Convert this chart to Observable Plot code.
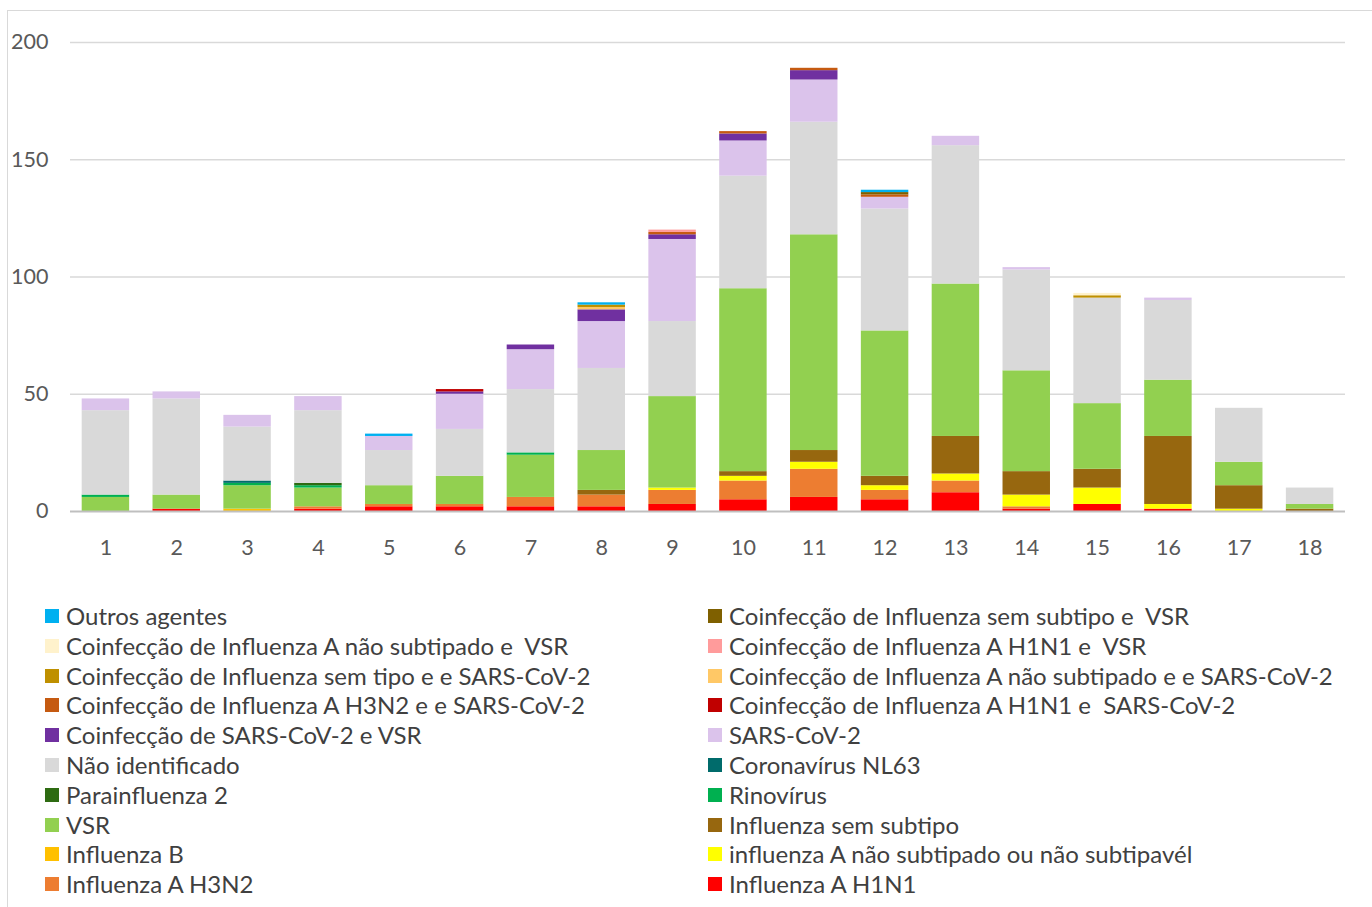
<!DOCTYPE html>
<html>
<head>
<meta charset="utf-8">
<script src="https://cdn.jsdelivr.net/npm/d3@7"></script>
<script src="https://cdn.jsdelivr.net/npm/@observablehq/plot@0.6"></script>
<style>
  html, body { margin: 0; padding: 0; background: #fff; }
  body { width: 1372px; height: 907px; position: relative; overflow: hidden; font-family: Lato, sans-serif; }
  #frame { position: absolute; left: 7px; top: 10px; width: 1370px; height: 910px; border: 1px solid #D9D9D9; box-sizing: border-box; }
  #chart { position: absolute; left: 0; top: 0; }
  #legend { position: absolute; left: 0; top: 0; }
  .item { position: absolute; display: flex; align-items: center; font-size: 24px; color: #404040; white-space: pre; line-height: 1; }
  .sw { width: 14px; height: 14px; margin-right: 7px; flex: none; }
</style>
</head>
<body>
<div id="frame"></div>
<div id="chart"></div>
<div id="legend"></div>
<script>
// Weeks (x categories)
const weeks = ["1","2","3","4","5","6","7","8","9","10","11","12","13","14","15","16","17","18"];

// Series, in stacking order (bottom to top)
const seriesNames = [
  "Influenza A H1N1",
  "Influenza A H3N2",
  "influenza A não subtipado ou não subtipavél",
  "Influenza B",
  "Influenza sem subtipo",
  "VSR",
  "Rinovírus",
  "Parainfluenza 2",
  "Coronavírus NL63",
  "Não identificado",
  "SARS-CoV-2",
  "Coinfecção de SARS-CoV-2 e VSR",
  "Coinfecção de Influenza A H1N1 e  SARS-CoV-2",
  "Coinfecção de Influenza A H3N2 e e SARS-CoV-2",
  "Coinfecção de Influenza A não subtipado e e SARS-CoV-2",
  "Coinfecção de Influenza sem tipo e e SARS-CoV-2",
  "Coinfecção de Influenza A H1N1 e  VSR",
  "Coinfecção de Influenza A não subtipado e  VSR",
  "Coinfecção de Influenza sem subtipo e  VSR",
  "Outros agentes"
];

const seriesColors = [
  "#FF0000", "#ED7D31", "#FFFF00", "#FFC000", "#97670F",
  "#92D050", "#00B050", "#2E6B12", "#006B6B", "#D9D9D9",
  "#DBC3EB", "#7030A0", "#C00000", "#C55A11", "#FFC866",
  "#BF9000", "#FF9B9B", "#FFF2CC", "#7F6000", "#00B0F0"
];

// Values per series, one per week 1..18
const h1n1        = [0,1,0,1,2,2,2,2,3,5,6,5,8,1,3,1,0,0];
const h3n2        = [0,0,0,1,1,1,4,5,6,8,12,4,5,1,0,0,0,0];
const aNaoSub     = [0,0,0,0,0,0,0,0,1,2,3,2,3,5,7,2,1,0];
const fluB        = [0,0,1,0,0,0,0,0,0,0,0,0,0,0,0,0,0,0];
const semSubtipo  = [0,0,0,0,0,0,0,2,0,2,5,4,16,10,8,29,10,1];
const vsr         = [6,6,10,8,8,12,18,17,39,78,92,62,65,43,28,24,10,2];
const rinovirus   = [1,0,1,1,0,0,1,0,0,0,0,0,0,0,0,0,0,0];
const parainf2    = [0,0,0,1,0,0,0,0,0,0,0,0,0,0,0,0,0,0];
const nl63        = [0,0,1,0,0,0,0,0,0,0,0,0,0,0,0,0,0,0];
const naoIdent    = [36,41,23,31,15,20,27,35,32,48,48,52,59,43,45,34,23,7];
const sarsCov2    = [5,3,5,6,6,15,17,20,35,15,18,5,4,1,0,1,0,0];
const coSarsVsr   = [0,0,0,0,0,1,2,5,2,3,4,0,0,0,0,0,0,0];
const coH1n1Sars  = [0,0,0,0,0,1,0,0,0,0,0,0,0,0,0,0,0,0];
const coH3n2Sars  = [0,0,0,0,0,0,0,0,1,1,1,1,0,0,0,0,0,0];
const coANsSars   = [0,0,0,0,0,0,0,1,0,0,0,0,0,0,0,0,0,0];
const coSemTipoSars = [0,0,0,0,0,0,0,1,0,0,0,0,0,0,1,0,0,0];
const coH1n1Vsr   = [0,0,0,0,0,0,0,0,1,0,0,0,0,0,0,0,0,0];
const coANsVsr    = [0,0,0,0,0,0,0,0,0,0,0,0,0,0,1,0,0,0];
const coSemSubVsr = [0,0,0,0,0,0,0,0,0,0,0,1,0,0,0,0,0,0];
const outros      = [0,0,0,0,1,0,0,1,0,0,0,1,0,0,0,0,0,0];

const seriesValues = [h1n1, h3n2, aNaoSub, fluB, semSubtipo, vsr, rinovirus, parainf2, nl63,
  naoIdent, sarsCov2, coSarsVsr, coH1n1Sars, coH3n2Sars, coANsSars, coSemTipoSars,
  coH1n1Vsr, coANsVsr, coSemSubVsr, outros];

const yTicks = [0, 50, 100, 150, 200];

// Long-format table
const rows = [];
seriesNames.forEach((s, si) => {
  weeks.forEach((w, wi) => {
    const v = seriesValues[si][wi];
    if (v > 0) rows.push({week: w, series: s, value: v});
  });
});

const chart = Plot.plot({
  width: 1372,
  height: 575,
  marginTop: 42,
  marginBottom: 64,
  marginLeft: 70,
  marginRight: 27,
  style: {fontFamily: "Lato, sans-serif", fontSize: "21.5px", color: "#595959", background: "transparent"},
  x: {domain: weeks, round: false, paddingInner: 0.33, paddingOuter: 0.165, label: null, tickSize: 0, tickPadding: 28},
  y: {domain: [0, 200], label: null, ticks: yTicks, tickSize: 0, tickPadding: 22},
  color: {domain: seriesNames, range: seriesColors},
  marks: [
    Plot.gridY(yTicks.filter(d => d > 0), {stroke: "#D9D9D9", strokeOpacity: 1, strokeWidth: 1.5}),
    Plot.barY(rows, {x: "week", y: "value", fill: "series", order: seriesNames, inset: 0}),
    Plot.ruleY([0], {stroke: "#BFBFBF", strokeWidth: 2})
  ]
});
document.getElementById("chart").appendChild(chart);

// Legend (reading order: reverse of stacking)
const legendOrder = seriesNames.map((s, i) => i).reverse();
const legend = document.getElementById("legend");
legendOrder.forEach((idx, k) => {
  const col = k % 2, row = Math.floor(k / 2);
  const div = document.createElement("div");
  div.className = "item";
  div.style.left = (col === 0 ? 45 : 708) + "px";
  div.style.top = (616 + row * 29.8 - 12) + "px";
  const sw = document.createElement("span");
  sw.className = "sw";
  sw.style.background = seriesColors[idx];
  const tx = document.createElement("span");
  tx.textContent = seriesNames[idx];
  div.appendChild(sw); div.appendChild(tx);
  legend.appendChild(div);
});
</script>
</body>
</html>
